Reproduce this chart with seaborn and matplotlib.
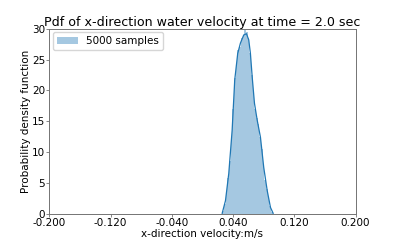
import numpy as np
import pandas as pd
import seaborn as sns
import matplotlib.pyplot as plt

# bin centres / heights
bin_centros = [0.0271, 0.0293, 0.0315, 0.0337, 0.0359, 0.0381, 0.0403, 0.0425, 0.0447, 0.0469,
               0.0491, 0.0513, 0.0535, 0.0557, 0.0579, 0.0601, 0.0623, 0.0645, 0.0667, 0.0689,
               0.0711, 0.0733, 0.0755, 0.0777, 0.0799, 0.0821, 0.0843, 0.0865, 0.0887, 0.0909]
bin_alturas = [0.5, 1.5, 3.5, 5.8, 8.5, 12.5, 17.0, 22.0, 24.5, 26.5,
               27.0, 28.5, 29.0, 31.0, 29.5, 28.5, 26.0, 22.5, 19.5, 17.0,
               15.5, 14.5, 12.5, 10.5, 8.0, 5.5, 4.0, 2.5, 1.2, 0.3]

# kde curve
kde_x = [0.0258, 0.0301, 0.0344, 0.0388, 0.0422, 0.0461, 0.0497, 0.0540, 0.0575, 0.0605,
         0.0627, 0.0650, 0.0680, 0.0715, 0.0758, 0.0801, 0.0846, 0.0889, 0.0924]
kde_y = [0.05, 2.1, 6.5, 13.5, 21.7, 26.0, 27.7, 29.0, 29.2, 28.2,
         26.0, 22.2, 17.9, 15.2, 12.4, 7.5, 3.75, 1.0, 0.05]

largura = 0.0022
bordas = [bin_centros[0] - largura / 2] + [c + largura / 2 for c in bin_centros]
hist = pd.DataFrame({'x': bin_centros, 'w': bin_alturas})

plt.rcParams['font.size'] = 7.5
fig, ax = plt.subplots(figsize=(3.95, 2.4), dpi=100)

sns.histplot(data=hist, x='x', weights='w', bins=bordas, stat='count',
             color='C0', alpha=0.4, linewidth=0, ax=ax, label='5000 samples')
sns.lineplot(x=kde_x, y=kde_y, color='C0', linewidth=0.9, ax=ax)

ax.set_xlim(-0.2, 0.2)
ax.set_ylim(0, 30)
ticks = np.linspace(-0.2, 0.2, 6)
ax.set_xticks(ticks)
ax.set_xticklabels(['%.3f' % t for t in ticks])
ax.tick_params(length=2, width=0.6, pad=1, color='0.45')
ax.set_xlabel('x-direction velocity:m/s', labelpad=1)
ax.set_ylabel('Probability density function', labelpad=0.5)
ax.set_title('Pdf of x-direction water velocity at time = 2.0 sec', fontsize=9.05, pad=1.5)
ax.legend(loc='upper left', borderaxespad=0.3)
for s in ax.spines.values():
    s.set_color('0.45')
    s.set_linewidth(0.7)

fig.savefig('out.png')
